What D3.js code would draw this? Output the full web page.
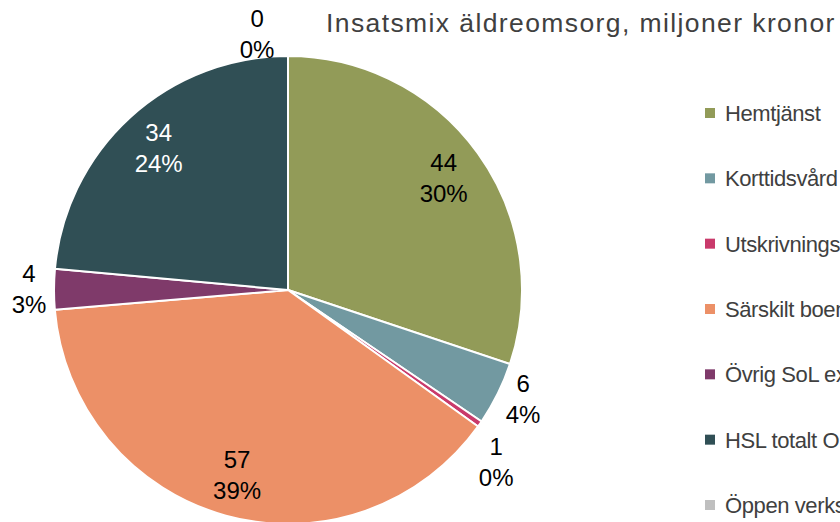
<!DOCTYPE html>
<html><head><meta charset="utf-8">
<script src="https://cdn.jsdelivr.net/npm/d3@7"></script>
<style>
html,body{margin:0;padding:0;background:#fff;overflow:hidden}
svg{display:block;font-family:"Liberation Sans",Arial,sans-serif}
</style></head>
<body><svg id="c" width="840" height="522"></svg>
<script>
const title = "Insatsmix äldreomsorg, miljoner kronor";
const categories = ["Hemtjänst","Korttidsvård","Utskrivningsklara","Särskilt boende","Övrig SoL exkl. öppen verksamhet","HSL totalt Omsorg","Öppen verksamhet"];
const values = [44, 6.4, 0.6, 56.6, 4.1, 34.4, 0];
const colors = ["#929B58","#7299A1","#C93A6B","#EC9067","#7F3A6A","#304F55","#BFBFBF"];

const svg = d3.select("#c");
const cx = 288, cy = 290, R = 234;

svg.append("text").attr("x", 326).attr("y", 32)
  .attr("font-size", 26.5).attr("fill", "#404040").attr("letter-spacing", 1.4)
  .text(title);

const pie = d3.pie().sort(null).value(d => d);
const arcs = pie(values);
const arc = d3.arc().innerRadius(0).outerRadius(R);
const total = d3.sum(values);
const fmtV = d3.format(".0f");
const fmtP = d3.format(".0%");

const g = svg.append("g").attr("transform", `translate(${cx},${cy})`);
g.selectAll("path").data(arcs).join("path")
  .attr("d", arc).attr("fill", (d,i) => colors[i])
  .attr("stroke", "#fff").attr("stroke-width", 2).attr("stroke-linejoin","round");

// label placement: inside for big slices, outside for small ones
const inner = 0.82 * R;
function labelPos(d, i) {
  const frac = d.value / total;
  let a = (d.startAngle + d.endAngle) / 2, r;
  if (frac > 0.1) r = inner;
  else {
    r = R + 25;
    if (i === 1) a -= 0.026;
    if (i === 2) { a += 0.081; r = R + 36; }   // dodge below neighbour
    if (i === 6) { a -= 0.12; r = R + 24; }
  }
  return [Math.sin(a) * r, -Math.cos(a) * r];
}
const lbl = g.selectAll("g.lbl").data(arcs).join("g").attr("class","lbl")
  .attr("transform", (d,i) => { const p = labelPos(d,i); return `translate(${p[0]},${p[1]})`; });
const txtFill = (d,i) => i === 5 ? "#fff" : "#000";
lbl.append("text").attr("text-anchor","middle").attr("y", -7)
  .attr("font-size", 24).attr("fill", txtFill)
  .text(d => fmtV(d.value));
lbl.append("text").attr("text-anchor","middle").attr("y", 24)
  .attr("font-size", 24).attr("fill", txtFill)
  .text(d => fmtP(d.value / total));

// legend
const ly = d3.scalePoint().domain(categories).range([113, 505]);
const leg = svg.append("g").selectAll("g").data(categories).join("g")
  .attr("transform", d => `translate(705,${ly(d)})`);
leg.append("rect").attr("x", 0).attr("y", -5).attr("width", 10).attr("height", 10)
  .attr("fill", (d,i) => colors[i]);
leg.append("text").attr("x", 20).attr("y", 8).attr("font-size", 22)
  .attr("letter-spacing", -0.4).attr("fill", "#404040").text(d => d);
</script></body></html>
